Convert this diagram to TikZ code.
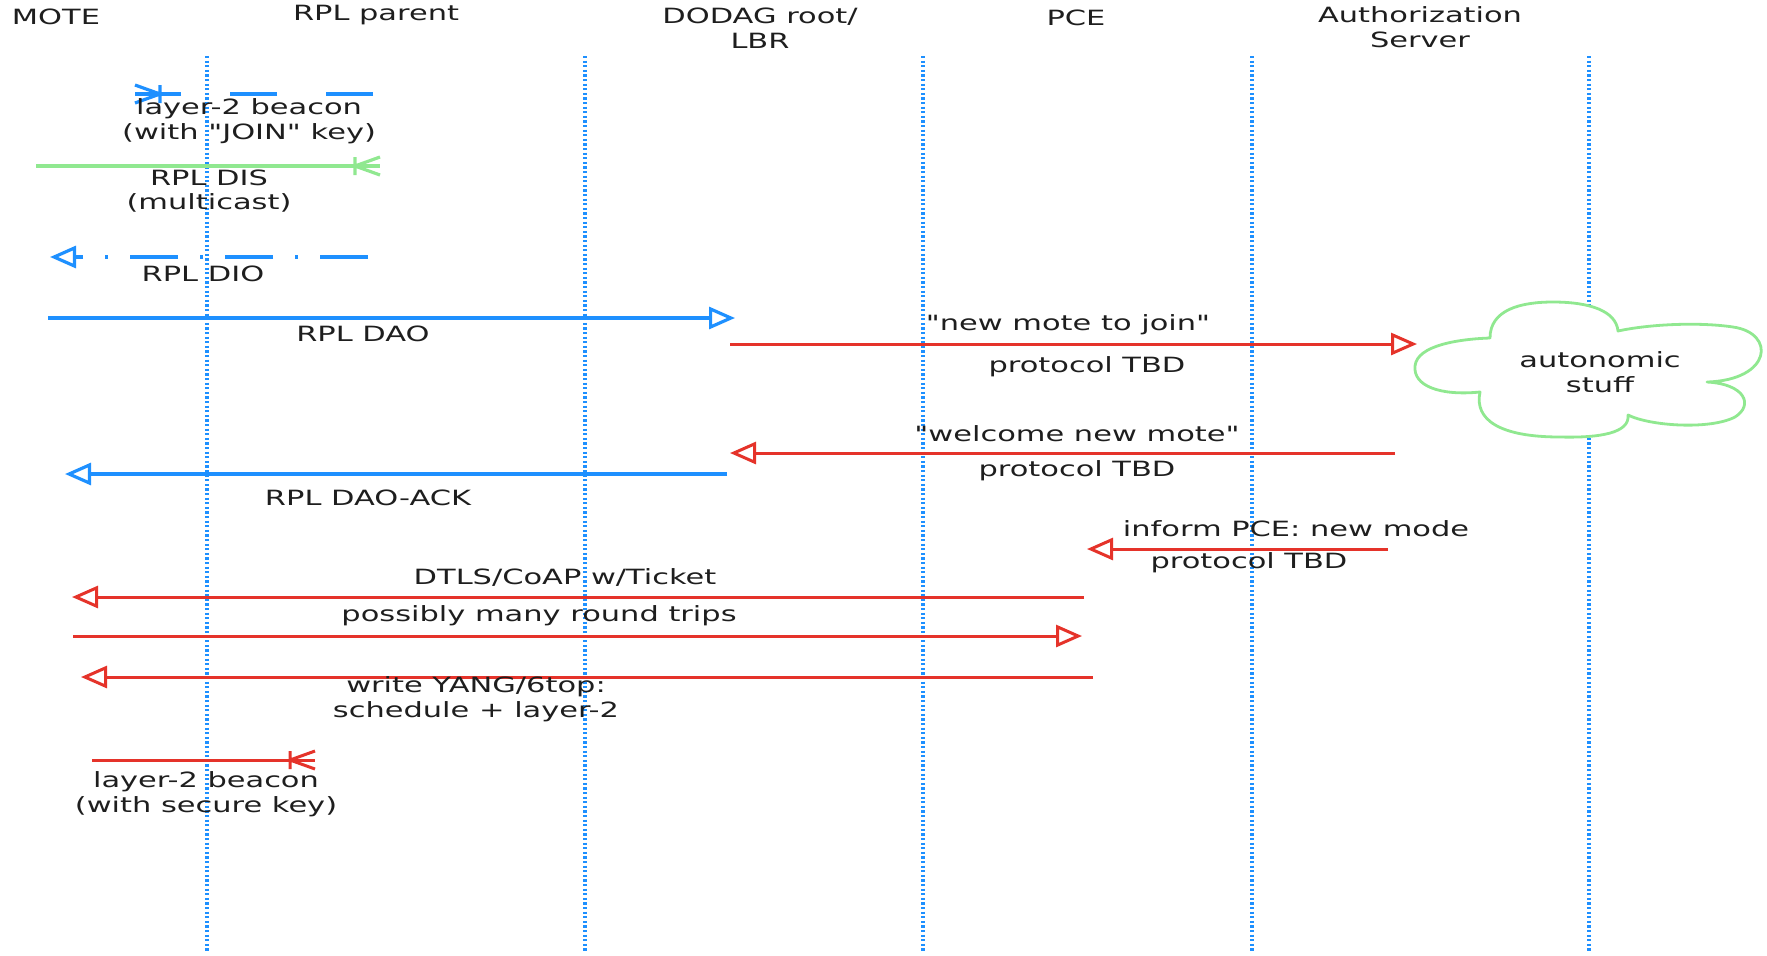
\documentclass[tikz,border=0pt]{standalone}
\usepackage{fontspec}
\setmainfont{DejaVu Sans}[FakeStretch=1.45, Ligatures=TeXOff]
\usetikzlibrary{arrows.meta}
\definecolor{lifeblue}{RGB}{30,144,255}
\definecolor{msgred}{RGB}{229,51,42}
\definecolor{disgreen}{RGB}{144,232,144}
\definecolor{ink}{RGB}{30,30,30}

\begin{document}
\begin{tikzpicture}[x=0.5pt,y=-0.5pt,
  lbl/.style={inner sep=0pt, text=ink, font=\fontsize{10.5}{12.4}\selectfont, align=center},
  lifeline/.style={draw=lifeblue, line width=1.9pt, dash pattern=on 1.1pt off 1.2pt},
  blueMsg/.style={draw=lifeblue, line width=1.6pt},
  redMsg/.style={draw=msgred, line width=1.5pt},
  openTri/.style={-{Triangle[open,length=13pt,width=11pt]}},
  cloudline/.style={draw=disgreen, fill=white, line width=1.4pt, line join=round},
  crowfoot/.pic={\draw[pic actions, solid] (-25,0) -- (0,-9) (-25,0) -- (0,9) (-25,-9) -- (-25,9);}
]
\path[use as bounding box] (0,0) rectangle (1767,955);

% participants
\node[lbl] (mote)   at (56,17)   {MOTE};
\node[lbl] (parent) at (376,15)  {RPL parent};
\node[lbl] (root)   at (760,28)  {DODAG root/\\LBR};
\node[lbl] (pce)    at (1076,18) {PCE};
\node[lbl] (auth)   at (1420,27) {Authorization\\Server};

% lifelines
\foreach \n/\x in {1/207,2/585,3/923,4/1252,5/1589}{
  \coordinate (top\n) at (\x,56);
  \coordinate (bot\n) at (\x,952);
  \draw[lifeline] (top\n) -- (bot\n);
}

% layer-2 beacon with JOIN key
\coordinate (b1s) at (373,94); \coordinate (b1e) at (135,94);
\draw[blueMsg, dash pattern=on 23.5pt off 24.5pt] (b1s) -- (b1e);
\pic[draw=lifeblue, line width=1.6pt, xscale=-1] at (b1e) {crowfoot};
\node[lbl] (lb1) at (249,121) {layer-2 beacon\\(with "JOIN" key)};

% RPL DIS
\coordinate (dis1) at (36,166); \coordinate (dis2) at (380,166);
\draw[draw=disgreen, line width=1.6pt] (dis1) -- (dis2);
\pic[draw=disgreen, line width=1.6pt] at (dis2) {crowfoot};
\node[lbl] (ldis) at (209,191) {RPL DIS\\(multicast)};

% RPL DIO
\coordinate (dio1) at (368,257); \coordinate (dio2) at (50,257);
\draw[blueMsg, openTri, dash pattern=on 24pt off 11pt on 1.5pt off 11pt] (dio1) -- (dio2);
\node[lbl] (ldio) at (203,274) {RPL DIO};

% RPL DAO
\coordinate (dao1) at (48,318); \coordinate (dao2) at (735,318);
\draw[blueMsg, openTri] (dao1) -- (dao2);
\node[lbl] (ldao) at (363,334) {RPL DAO};

% new mote to join
\coordinate (nm1) at (730,344); \coordinate (nm2) at (1417,344);
\draw[redMsg, openTri] (nm1) -- (nm2);
\node[lbl] (lnm) at (1068,325) {"new mote to join"};
\node[lbl] (lnmp) at (1087,367) {protocol TBD};

% autonomic cloud, drawn lobe by lobe
\coordinate (n1) at (1490,338);
\coordinate (n2) at (1618,331);
\coordinate (n3) at (1707,382);
\coordinate (n4) at (1628,415);
\coordinate (n5) at (1480,392);
\path[cloudline]
  (n1) .. controls (1490,310) and (1520,302) .. (1553,302)
       .. controls (1590,302) and (1616,311) .. (n2)
       .. controls (1650,324) and (1700,322) .. (1733,327)
       .. controls (1776,333) and (1772,380) .. (n3)
       .. controls (1745,384) and (1754,405) .. (1735,417)
       .. controls (1710,430) and (1650,426) .. (n4)
       .. controls (1630,433) and (1600,438) .. (1560,437)
       .. controls (1500,437) and (1474,420) .. (n5)
       .. controls (1440,396) and (1413,386) .. (1415,366)
       .. controls (1417,345) and (1460,339) .. (n1) -- cycle;
\node[lbl] (lcloud) at (1600,372) {autonomic\\stuff};

% welcome new mote
\coordinate (wm1) at (1395,453); \coordinate (wm2) at (730,453);
\draw[redMsg, openTri] (wm1) -- (wm2);
\node[lbl] (lwm) at (1077,434) {"welcome new mote"};
\node[lbl] (lwmp) at (1077,471) {protocol TBD};

% RPL DAO-ACK
\coordinate (ack1) at (727,474); \coordinate (ack2) at (65,474);
\draw[blueMsg, openTri] (ack1) -- (ack2);
\node[lbl] (lack) at (368,498) {RPL DAO-ACK};

% inform PCE
\coordinate (ip1) at (1388,549); \coordinate (ip2) at (1087,549);
\draw[redMsg, openTri] (ip1) -- (ip2);
\node[lbl] (lip) at (1296,529) {inform PCE: new mode};
\node[lbl] (lipp) at (1249,563) {protocol TBD};

% DTLS/CoAP
\coordinate (dt1) at (1084,597); \coordinate (dt2) at (72,597);
\draw[redMsg, openTri] (dt1) -- (dt2);
\node[lbl] (ldt) at (565,577) {DTLS/CoAP w/Ticket};

% round trips
\coordinate (rt1) at (73,636); \coordinate (rt2) at (1082,636);
\draw[redMsg, openTri] (rt1) -- (rt2);
\node[lbl] (lrt) at (539,616) {possibly many round trips};

% write YANG/6top
\coordinate (wy1) at (1093,677); \coordinate (wy2) at (81,677);
\draw[redMsg, openTri] (wy1) -- (wy2);
\node[lbl] (lwy) at (476,699) {write YANG/6top:\\schedule + layer-2};

% layer-2 beacon with secure key
\coordinate (b2s) at (92,760); \coordinate (b2e) at (315,760);
\draw[redMsg] (b2s) -- (b2e);
\pic[draw=msgred, line width=1.5pt] at (b2e) {crowfoot};
\node[lbl] (lb2) at (206,794) {layer-2 beacon\\(with secure key)};
\end{tikzpicture}
\end{document}
